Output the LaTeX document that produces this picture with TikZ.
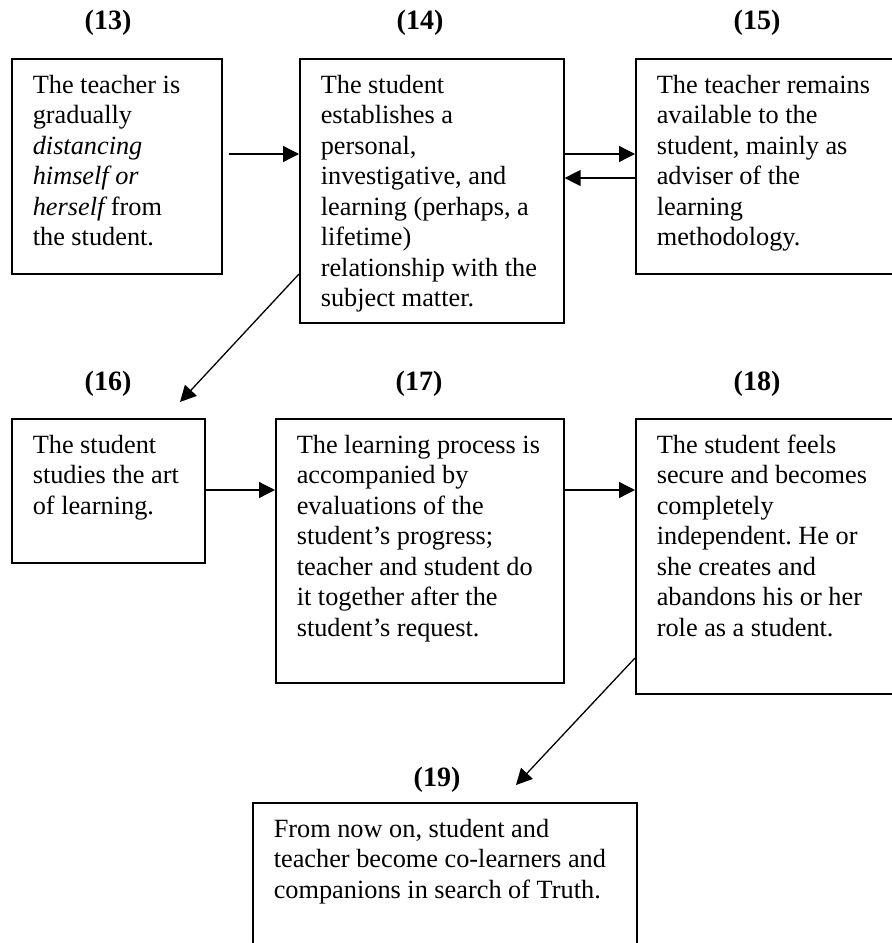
\documentclass[tikz,border=0pt]{standalone}
\usepackage{fontspec}
\setmainfont{Liberation Serif}
\usetikzlibrary{arrows.meta}

\newcommand{\stagetext}[3]{\hspace*{21pt}\parbox[t][#2pt][t]{#1pt}{\frenchspacing\strut#3}}

\begin{document}
\begin{tikzpicture}[x=1pt,y=-1pt,
    stage/.style={draw,line width=1.6pt,anchor=north west,inner xsep=0pt,inner ysep=13pt,
      font=\fontsize{26.3}{30.5}\selectfont},
    num/.style={font=\fontsize{28}{30}\selectfont\bfseries},
    flow/.style={line width=1.3pt,-{Triangle[length=16pt,width=16pt]}}]
  \useasboundingbox (0,0) rectangle (892,943);

  % top row
  \node[stage] (s13) at (11,58) {\stagetext{189}{189}{The teacher is\\ gradually\\ {\itshape distancing}\\ {\itshape himself or}\\ {\itshape herself} from\\ the student.}};
  \node[stage] (s14) at (299,58) {\stagetext{243}{238}{The student\\ establishes a\\ personal,\\ investigative, and\\ learning (perhaps, a\\ lifetime)\\ relationship with the\\ subject matter.}};
  \node[stage] (s15) at (635,58) {\stagetext{241}{189}{The teacher remains\\ available to the\\ student, mainly as\\ adviser of the\\ learning\\ methodology.}};

  % middle row
  \node[stage] (s16) at (11,418) {\stagetext{172}{118}{The student\\ studies the art\\ of learning.}};
  \node[stage] (s17) at (275,418) {\stagetext{267}{238}{The learning process is\\ accompanied by\\ evaluations of the\\ student's progress;\\ teacher and student do\\ it together after the\\ student's request.}};
  \node[stage] (s18) at (635,418) {\stagetext{241}{249}{The student feels\\ secure and becomes\\ completely\\ independent. He or\\ she creates and\\ abandons his or her\\ role as a student.}};

  % last one
  \node[stage] (s19) at (252,802) {\stagetext{363}{134}{From now on, student and\\ teacher become co-learners and\\ companions in search of Truth.}};

  \node[num] (n13) at (108,23) {(13)};
  \node[num] (n14) at (420,23) {(14)};
  \node[num] (n15) at (757,23) {(15)};
  \node[num] (n16) at (108,384) {(16)};
  \node[num] (n17) at (419,384) {(17)};
  \node[num] (n18) at (757,384) {(18)};
  \node[num] (n19) at (437,780) {(19)};

  \draw[flow] ([shift={(6,96)}]s13.north east) -- ([shift={(0,96)}]s14.north west);
  \draw[flow] ([shift={(0,96)}]s14.north east) -- ([shift={(0,96)}]s15.north west);
  \draw[flow] ([shift={(0,120)}]s15.north west) -- ([shift={(0,120)}]s14.north east);
  \draw[flow] ([shift={(0,216)}]s14.north west) -- ([shift={(169,-16)}]s16.north west);
  \draw[flow] ([shift={(0,72)}]s16.north east) -- ([shift={(0,72)}]s17.north west);
  \draw[flow] ([shift={(0,72)}]s17.north east) -- ([shift={(0,72)}]s18.north west);
  \draw[flow] ([shift={(0,240)}]s18.north west) -- ([shift={(264,-17)}]s19.north west);
\end{tikzpicture}
\end{document}
